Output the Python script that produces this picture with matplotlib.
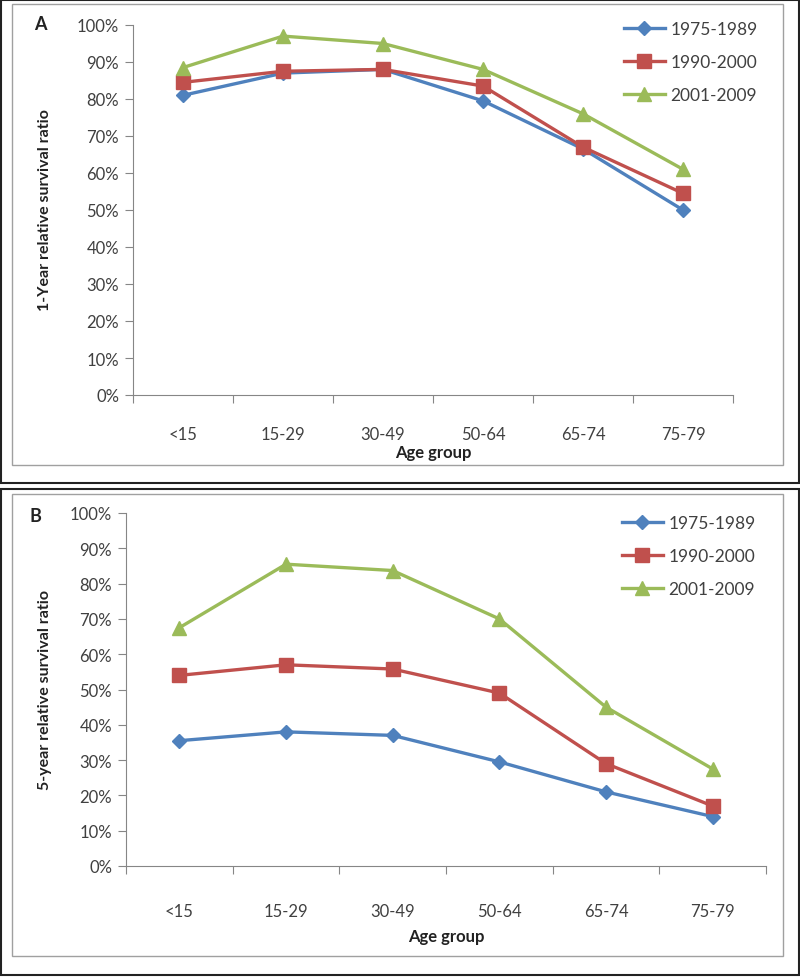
import numpy as np
import matplotlib.pyplot as plt
from matplotlib.patches import Rectangle

plt.rcParams['font.family'] = ['Lato', 'DejaVu Sans']

ages = ['<15', '15-29', '30-49', '50-64', '65-74', '75-79']
periods = ['1975-1989', '1990-2000', '2001-2009']

# 1-year relative survival (%)
a_7589 = [81, 87, 88, 79.5, 66.5, 50]
a_9000 = [84.5, 87.5, 88, 83.5, 67, 54.5]
a_0109 = [88.5, 97, 95, 88, 76, 61]

# 5-year relative survival (%)
b_7589 = [35.5, 38, 37, 29.5, 21, 14]
b_9000 = [54, 57, 55.8, 49, 29, 17]
b_0109 = [67.5, 85.5, 83.7, 70, 45, 27.5]

colors = ['#4F81BD', '#C0504D', '#9BBB59']
markers = ['D', 's', '^']
msizes = [7, 10, 10]
axis_grey = '#868686'
text_col = '#404040'

W, H = 800, 978
fig = plt.figure(figsize=(8, 9.78), dpi=100)


def fx(px):
    return px / W


def fy(py):
    return 1 - py / H


# outer black frames and inner grey chart frames
for top, bot in [(1, 484), (490, 976)]:
    fig.patches.append(Rectangle((fx(1), fy(bot)), fx(798), (bot - top) / H,
                                 transform=fig.transFigure, fill=False,
                                 edgecolor='#222222', lw=1.5))
for top, bot in [(5, 466), (495, 957)]:
    fig.patches.append(Rectangle((fx(12), fy(bot)), fx(771), (bot - top) / H,
                                 transform=fig.transFigure, fill=False,
                                 edgecolor='#A0A0A0', lw=1.0))


def panel(rect, series, ylabel, letter, letter_pos, ylab_y, xlab_y, leg_pos, pad):
    ax = fig.add_axes(rect)
    x = np.arange(len(ages)) + 0.5
    for vals, c, m, ms, lab in zip(series, colors, markers, msizes, periods):
        ax.plot(x, np.array(vals) / 100, color=c, lw=2.4, marker=m,
                markersize=ms, label=lab)
    ax.set_xlim(0, len(ages))
    ax.set_ylim(0, 1)
    ax.set_yticks(np.arange(0, 1.01, 0.1))
    ax.set_yticklabels(['%d%%' % v for v in range(0, 101, 10)])
    ax.set_xticks(np.arange(0, len(ages) + 1))
    ax.set_xticklabels([])
    ax.set_xticks(x, minor=True)
    ax.set_xticklabels(ages, minor=True)
    ax.tick_params(axis='x', which='minor', length=0, pad=pad,
                   labelsize=12, labelcolor=text_col)
    ax.tick_params(axis='x', which='major', length=6, color=axis_grey)
    ax.tick_params(axis='y', length=6, color=axis_grey, labelsize=12,
                   labelcolor=text_col, pad=4)
    for s in ['top', 'right']:
        ax.spines[s].set_visible(False)
    for s in ['left', 'bottom']:
        ax.spines[s].set_color(axis_grey)
    fig.text(fx(45), fy(ylab_y), ylabel, rotation=90, ha='center',
             va='center', fontsize=11.5, fontweight='bold', color='#222222')
    fig.text(fx(letter_pos[0]), fy(letter_pos[1]), letter, ha='center',
             va='center', fontsize=13, fontweight='bold', color='#222222')
    fig.text(fx(rect[0] * W + rect[2] * W / 2), fy(xlab_y), 'Age group',
             ha='center', va='center', fontsize=12, fontweight='bold',
             color='#222222')
    fig.legend(*ax.get_legend_handles_labels(), loc='upper left',
               bbox_to_anchor=(fx(leg_pos[0]), fy(leg_pos[1])),
               frameon=False, fontsize=12.5, handlelength=2.4,
               labelspacing=1.0, handletextpad=0.3, labelcolor=text_col)
    return ax


panel([fx(133), fy(396), fx(600), (396 - 26) / H],
      [a_7589, a_9000, a_0109], '1-Year relative survival ratio', 'A',
      (40, 25), 210, 453, (608, 6), 22)

panel([fx(126), fy(867), fx(640), (867 - 514) / H],
      [b_7589, b_9000, b_0109], '5-year relative survival ratio', 'B',
      (35, 517), 690, 937, (606, 500), 27)

fig.savefig('out.png', dpi=100)
